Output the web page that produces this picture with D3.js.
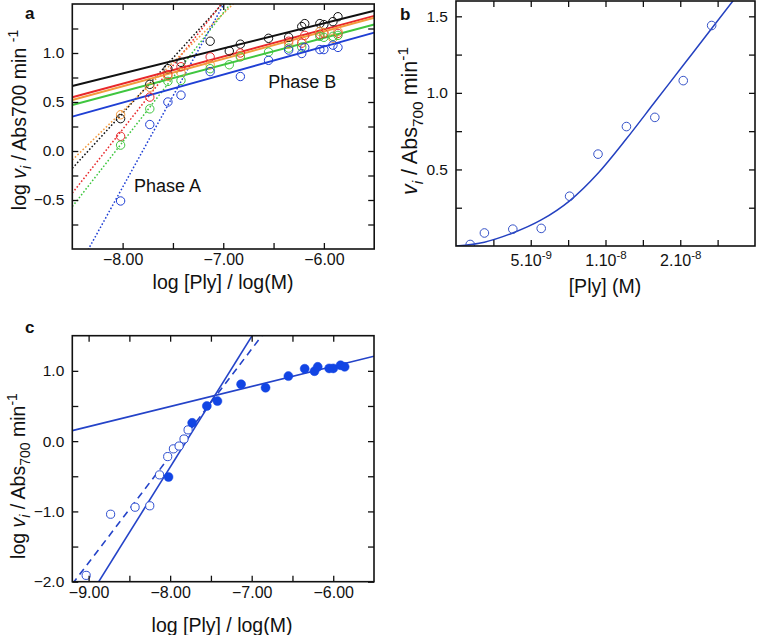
<!DOCTYPE html>
<html><head><meta charset="utf-8">
<script src="https://cdn.jsdelivr.net/npm/d3@7"></script>
<style>
body{margin:0;background:#fff}
svg{display:block}
text{font-family:"Liberation Sans",Arial,Helvetica,sans-serif;fill:#111}
</style>
</head><body>
<svg id="chart" width="761" height="635"></svg>
<script>
// ---------------- DATA ----------------
// Panel a: log [Ply] vs log vi for five series
const aX      = [-8.02,-7.73,-7.55,-7.42,-7.13,-6.94,-6.83,-6.55,-6.35,-6.22,-6.19,-6.04,-6.00,-5.91,-5.86];
const aBlack  = [0.33,0.68,0.84,0.905,1.12,1.02,1.09,1.15,1.16,1.27,1.30,1.30,1.29,1.32,1.37];
const aRed    = [0.15,0.55,0.78,0.86,0.96,null,1.00,null,1.12,1.10,1.18,1.19,1.20,null,1.20];
const aOrange = [0.37,0.65,0.76,0.80,0.88,null,0.97,null,1.09,1.13,null,1.22,1.21,1.15,1.22];
const aGreen  = [0.06,0.43,0.71,0.72,0.84,0.88,0.96,1.01,1.05,1.06,null,1.17,1.16,1.17,1.18];
const aBlue   = [-0.51,0.27,0.50,0.57,0.81,null,0.76,0.925,1.03,0.995,1.057,1.035,1.035,1.08,1.057];
const aSeriesColors = ["#111111","#e8282b","#f39a3c","#3fc63f","#1f3fd4"];
// fitted lines y = m*x + b (phase B solid, phase A dotted)
const aPhaseBSlope     = [0.256,0.277,0.280,0.274,0.286];
const aPhaseBIntercept = [2.839,2.903,2.900,2.798,2.781];
const aPhaseASlope     = [1.126,1.302,0.995,1.317,1.86];
const aPhaseAIntercept = [9.394,10.637,8.366,10.627,14.51];
const aXTickValues = [-8,-7.5,-7,-6.5,-6];
const aXTickText   = ["\u22128.00","","\u22127.00","","\u22126.00"];
const aYTickValues = [-0.75,-0.5,-0.25,0,0.25,0.5,0.75,1,1.25];
const aYTickText   = ["","\u22120.5","","0.0","","0.5","","1.0",""];

// Panel b: [Ply] (M) vs vi
const bX = [0.95e-9,1.9e-9,3.8e-9,5.7e-9,7.6e-9,9.5e-9,11.4e-9,13.3e-9,15.2e-9,17.1e-9];
const bY = [0.01,0.085,0.11,0.115,0.325,0.60,0.78,0.84,1.08,1.44];
const bFitX = [0,1.9e-9,3.8e-9,5.7e-9,7.6e-9,9.5e-9,11.4e-9,13.3e-9,15.2e-9,17.1e-9,18.6e-9];
const bFitY = [0,0.025,0.085,0.17,0.295,0.475,0.70,0.94,1.18,1.42,1.61];
const bXTickValues = [2.5e-9,5e-9,7.5e-9,1e-8,1.25e-8,1.5e-8,1.75e-8];
const bXTickBase   = ["","5.10","","1.10","","2.10",""];
const bXTickExp    = ["","-9","","-8","","-8",""];
const bYTickValues = [0.25,0.5,0.75,1,1.25,1.5];
const bYTickText   = ["","0.5","","1.0","","1.5"];

// Panel c
const cOpenX   = [-9.03,-8.73,-8.43,-8.25,-8.13,-8.03,-7.96,-7.89,-7.83,-7.78];
const cOpenY   = [-1.91,-1.04,-0.94,-0.92,-0.48,-0.22,-0.11,-0.07,0.03,0.16];
const cFilledX = [-8.02,-7.73,-7.55,-7.42,-7.13,-6.83,-6.55,-6.35,-6.23,-6.19,-6.05,-6.00,-5.91,-5.86];
const cFilledY = [-0.51,0.26,0.50,0.57,0.81,0.76,0.925,1.03,0.995,1.057,1.035,1.035,1.08,1.057];
const cLineSlope     = [1.86,1.52,0.286];   // steep solid, steep dashed, shallow solid
const cLineIntercept = [14.51,11.95,2.781];
const cLineDash      = [null,"7,5",null];
const cXTickValues = [-9,-8.5,-8,-7.5,-7,-6.5,-6];
const cXTickText   = ["\u22129.00","","\u22128.00","","\u22127.00","","\u22126.00"];
const cYTickValues = [-2,-1.5,-1,-0.5,0,0.5,1];
const cYTickText   = ["\u22122.0","","\u22121.0","","0.0","","1.0"];

// ---------------- DRAWING ----------------
const svg = d3.select("#chart");
const TICK = 15.5, XTICK = 16, TITLE = 19.5;

function rich(sel, parts, size){
  let shift = 0;
  parts.forEach(p=>{
    const target = p.sub ? 0.28*size : (p.sup ? -0.42*size : 0);
    sel.append("tspan").text(p.t)
      .attr("dy", target - shift)
      .style("font-size", (p.sub||p.sup) ? (size*0.72)+"px" : size+"px")
      .style("font-style", p.it ? "italic" : "normal");
    shift = target;
  });
}

function axes(g, x, y, o){
  const [x0,x1] = x.range(), [y0,y1] = y.range();
  const bottom = g.append("g").attr("transform",`translate(0,${y0})`)
    .call(d3.axisBottom(x).tickValues(o.xv).tickSize(-6).tickPadding(o.xpad||5).tickFormat((d,i)=>o.xt ? o.xt[i] : ""));
  g.append("g").attr("transform",`translate(0,${y1})`)
    .call(d3.axisTop(x).tickValues(o.xv).tickSize(-6).tickFormat(""));
  const left = g.append("g").attr("transform",`translate(${x0},0)`)
    .call(d3.axisLeft(y).tickValues(o.yv).tickSize(-6).tickPadding(8).tickFormat((d,i)=>o.yt[i]));
  g.append("g").attr("transform",`translate(${x1},0)`)
    .call(d3.axisRight(y).tickValues(o.yv).tickSize(-6).tickFormat(""));
  g.selectAll(".domain").remove();
  g.selectAll(".tick line").attr("stroke","#111").attr("stroke-width",1.3);
  g.selectAll(".tick text").attr("font-family",null).attr("fill","#111");
  bottom.selectAll(".tick text").style("font-size",XTICK+"px");
  left.selectAll(".tick text").style("font-size",TICK+"px");
  g.append("rect").attr("x",x0).attr("y",y1).attr("width",x1-x0).attr("height",y0-y1)
    .attr("fill","none").attr("stroke","#111").attr("stroke-width",1.6);
  return bottom;
}

function clip(id, x, y){
  const [x0,x1] = x.range(), [y0,y1] = y.range();
  svg.append("clipPath").attr("id",id).append("rect")
    .attr("x",x0).attr("y",y1).attr("width",x1-x0).attr("height",y0-y1);
}

function fitLine(g, x, y, m, b, color, width, dash){
  const [d0,d1] = x.domain();
  g.append("line")
    .attr("x1",x(d0)).attr("y1",y(m*d0+b))
    .attr("x2",x(d1)).attr("y2",y(m*d1+b))
    .attr("stroke",color).attr("stroke-width",width)
    .attr("stroke-dasharray",dash);
}

// ---- Panel a ----
{
  const x = d3.scaleLinear().domain([-8.5,-5.5]).range([72.3,374.2]);
  const y = d3.scaleLinear().domain([-1,1.5]).range([249,4]);
  clip("clipA",x,y);
  const series = [aBlack,aRed,aOrange,aGreen,aBlue];
  const gl = svg.append("g").attr("clip-path","url(#clipA)");
  series.forEach((s,k)=>fitLine(gl,x,y,aPhaseASlope[k],aPhaseAIntercept[k],aSeriesColors[k],1.5,"1.6,2"));
  series.forEach((s,k)=>fitLine(gl,x,y,aPhaseBSlope[k],aPhaseBIntercept[k],aSeriesColors[k],1.9,null));
  series.forEach((s,k)=>{
    gl.selectAll(null).data(aX.map((v,i)=>[v,s[i]]).filter(d=>d[1]!==null)).enter()
      .append("circle").attr("cx",d=>x(d[0])).attr("cy",d=>y(d[1])).attr("r",4.2)
      .attr("fill","none").attr("stroke",aSeriesColors[k]).attr("stroke-width",1);
  });
  const ga = svg.append("g");
  axes(ga,x,y,{xv:aXTickValues,xt:aXTickText,yv:aYTickValues,yt:aYTickText});
  svg.append("text").attr("x",134).attr("y",191.7).style("font-size","18px").text("Phase A");
  svg.append("text").attr("x",268.3).attr("y",88.3).style("font-size","18px").text("Phase B");
  svg.append("text").attr("x",223).attr("y",288.5).attr("text-anchor","middle").style("font-size",TITLE+"px").text("log [Ply] / log(M)");
  const yt = svg.append("text").attr("transform","translate(26,120) rotate(-90)").attr("text-anchor","middle").style("white-space","pre");
  rich(yt,[{t:"log "},{t:"v",it:true},{t:"i",it:true,sub:true},{t:" / Abs700 min "},{t:"-1",sup:true}],TITLE);
  svg.append("text").attr("x",25).attr("y",19).style("font-size","17px").style("font-weight","bold").text("a");
}

// ---- Panel b ----
{
  const x = d3.scaleLinear().domain([0,2e-8]).range([456,755]);
  const y = d3.scaleLinear().domain([0,1.6]).range([246,1]);
  clip("clipB",x,y);
  const gl = svg.append("g").attr("clip-path","url(#clipB)");
  gl.append("path").datum(bFitX.map((v,i)=>[v,bFitY[i]]))
    .attr("d",d3.line().x(d=>x(d[0])).y(d=>y(d[1])).curve(d3.curveMonotoneX))
    .attr("fill","none").attr("stroke","#2441c0").attr("stroke-width",1.5);
  gl.selectAll(null).data(bX.map((v,i)=>[v,bY[i]])).enter()
    .append("circle").attr("cx",d=>x(d[0])).attr("cy",d=>y(d[1])).attr("r",4.3)
    .attr("fill","none").attr("stroke","#3552c8").attr("stroke-width",1);
  const gb = svg.append("g");
  const bottom = axes(gb,x,y,{xv:bXTickValues,xpad:8,yv:bYTickValues,yt:bYTickText});
  bottom.selectAll(".tick text").each(function(d,i){
    const t = d3.select(this);
    t.text(null).attr("dy",null).attr("y",20);
    if(bXTickBase[i]) rich(t,[{t:bXTickBase[i]},{t:bXTickExp[i],sup:true}],XTICK);
  });
  svg.append("text").attr("x",605).attr("y",293.3).attr("text-anchor","middle").style("font-size",TITLE+"px").text("[Ply] (M)");
  const yt = svg.append("text").attr("transform","translate(417,121) rotate(-90)").attr("text-anchor","middle").style("white-space","pre");
  rich(yt,[{t:"v",it:true},{t:"i",it:true,sub:true},{t:" / Abs"},{t:"700",sub:true},{t:" min"},{t:"-1",sup:true}],21.5);
  svg.append("text").attr("x",400).attr("y",20).style("font-size","17px").style("font-weight","bold").text("b");
}

// ---- Panel c ----
{
  const x = d3.scaleLinear().domain([-9.2,-5.5]).range([72.3,374]);
  const y = d3.scaleLinear().domain([-2,1.5]).range([581.7,335.7]);
  clip("clipC",x,y);
  const gl = svg.append("g").attr("clip-path","url(#clipC)");
  cLineSlope.forEach((m,k)=>fitLine(gl,x,y,m,cLineIntercept[k],"#2443c8",1.6,cLineDash[k]));
  gl.selectAll(null).data(cOpenX.map((v,i)=>[v,cOpenY[i]])).enter()
    .append("circle").attr("cx",d=>x(d[0])).attr("cy",d=>y(d[1])).attr("r",4.1)
    .attr("fill","#fff").attr("stroke","#2f4fd0").attr("stroke-width",1);
  gl.selectAll(null).data(cFilledX.map((v,i)=>[v,cFilledY[i]])).enter()
    .append("circle").attr("cx",d=>x(d[0])).attr("cy",d=>y(d[1])).attr("r",4.5)
    .attr("fill","#1245e4").attr("stroke","#1245e4").attr("stroke-width",0.5);
  const gc = svg.append("g");
  axes(gc,x,y,{xv:cXTickValues,xt:cXTickText,yv:cYTickValues,yt:cYTickText});
  svg.append("text").attr("x",222).attr("y",631.5).attr("text-anchor","middle").style("font-size",TITLE+"px").text("log [Ply] / log(M)");
  const yt = svg.append("text").attr("transform","translate(25,476) rotate(-90)").attr("text-anchor","middle").style("white-space","pre");
  rich(yt,[{t:"log "},{t:"v",it:true},{t:"i",it:true,sub:true},{t:" / Abs"},{t:"700",sub:true},{t:" min"},{t:"-1",sup:true}],TITLE);
  svg.append("text").attr("x",25).attr("y",333).style("font-size","17px").style("font-weight","bold").text("c");
}
</script>
</body></html>
